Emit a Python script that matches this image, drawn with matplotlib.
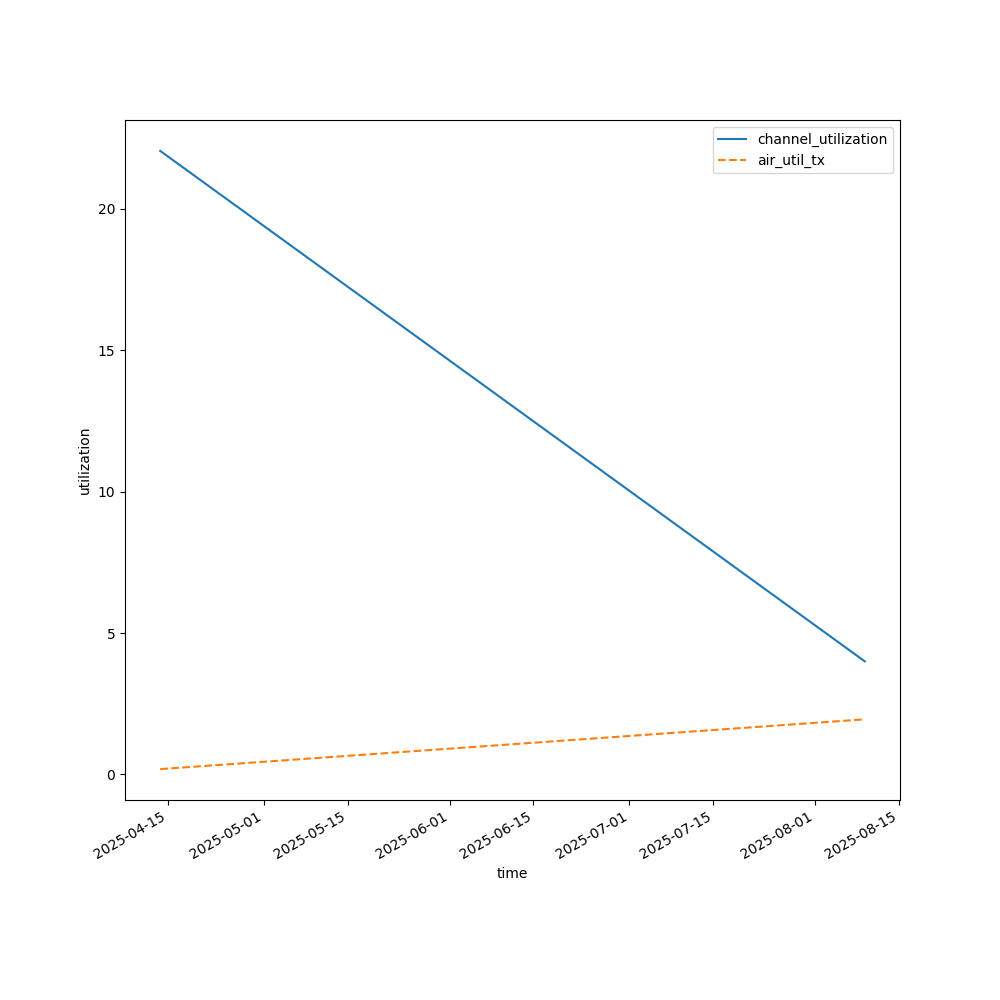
import matplotlib
matplotlib.use("Agg")
import matplotlib.pyplot as plt
import pandas as pd

times = pd.to_datetime(["2025-04-13 17:00", "2025-08-09 07:00"])
channel_utilization = [22.05, 4.0]
air_util_tx = [0.19, 1.95]

fig, ax = plt.subplots(figsize=(10, 10), dpi=100)
ax.plot(times, channel_utilization, label="channel_utilization")
ax.plot(times, air_util_tx, linestyle="--", label="air_util_tx")
ax.set_xlabel("time")
ax.set_ylabel("utilization")
ax.legend()
fig.autofmt_xdate()
fig.savefig("out.png")
